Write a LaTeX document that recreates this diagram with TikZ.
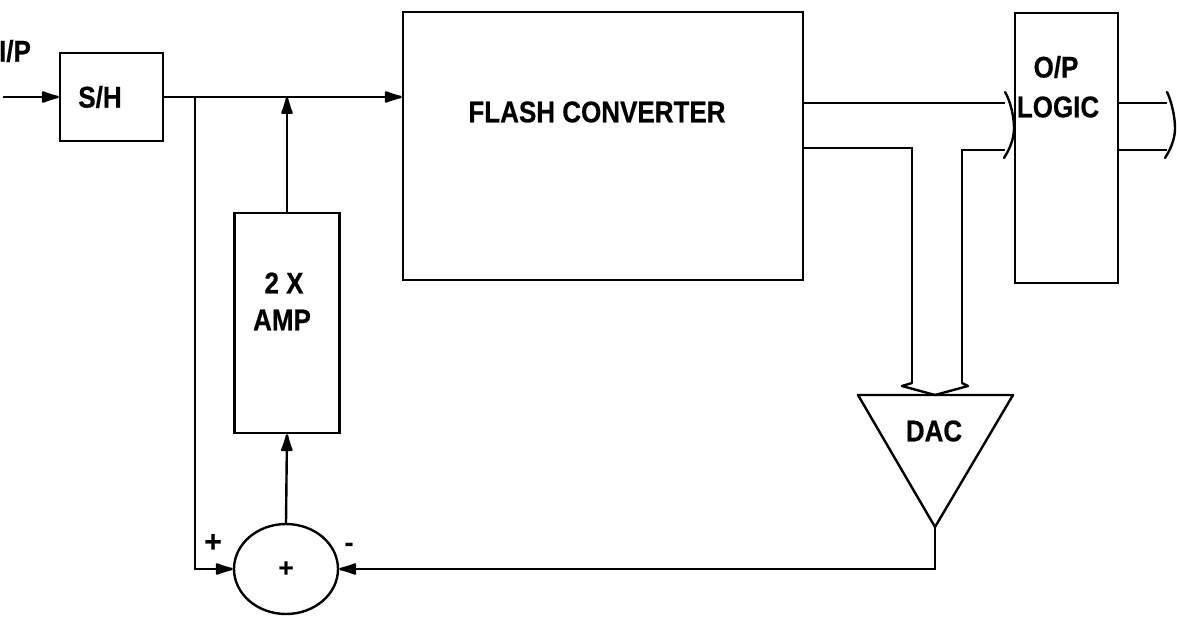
\documentclass[tikz,border=0pt]{standalone}
\usepackage{fontspec}
\usepackage{graphicx}
\setmainfont{Liberation Sans}[BoldFeatures={FakeBold=0.6}]
\usetikzlibrary{arrows.meta,shapes.geometric}
\newcommand{\tallbox}[1]{\scalebox{1}[1.15]{#1}}
\begin{document}
\begin{tikzpicture}[x=1pt,y=-1pt, line width=2.4pt,
  lbl/.style={font=\fontsize{26}{28}\selectfont\bfseries, inner sep=0pt},
  blk/.style={draw, inner sep=0pt},
  arr/.style={-{Latex[length=22pt,width=13pt,round]}},
  bus/.style={line width=2.4pt, line join=round, line cap=round}]
\useasboundingbox (0,0) rectangle (1177,616);
% blocks
\node[blk, minimum width=103pt, minimum height=88pt] (sh) at (111.5,97) {};
\node[blk, minimum width=400pt, minimum height=268pt] (flash) at (603,146) {};
\node[blk, minimum width=103pt, minimum height=270pt] (opl) at (1066.5,148) {};
\node[blk, minimum width=105pt, minimum height=220pt] (amp) at (287,323) {};
\node[draw, ellipse, minimum width=104pt, minimum height=90pt, inner sep=0pt] (sum) at (286,569) {};
% texts
\node[lbl] (iptxt) at (15,51) {\tallbox{I/P}};
\node[lbl] (shtxt) at (100,97) {\tallbox{S/H}};
\node[lbl] (flashtxt) at (597,112) {\tallbox{FLASH CONVERTER}};
\node[lbl] (optxt) at (1056,67) {\tallbox{O/P}};
\node[lbl] (logictxt) at (1058,107) {\tallbox{LOGIC}};
\node[lbl] (amptxt1) at (284,283) {\tallbox{2 X}};
\node[lbl] (amptxt2) at (282,320) {\tallbox{AMP}};
\node[lbl] (sumplus) at (286,569) {+};
\node[lbl, font=\fontsize{30}{32}\selectfont\bfseries] (plus) at (213,543) {+};
\node[lbl] (minus) at (349,547) {-};
\node[lbl] (dac) at (934,431) {\tallbox{DAC}};
% DAC triangle
\coordinate (dacl) at (858,395);
\coordinate (dacr) at (1013,395);
\coordinate (apex) at (935,527);
\draw[line join=round] (dacl) -- (dacr) -- (apex) -- cycle;
% coordinates
\coordinate (in) at (3,97);
\coordinate (br) at (195,97);
\coordinate (b1) at (1005,103);
\coordinate (b2) at (1005,150);
\coordinate (c1) at (1167,103);
\coordinate (c2) at (1167,150);
\coordinate (dl) at (912,383);
\coordinate (dr) at (962,383);
\coordinate (f2) at (0,148);
% connectors
\draw[arr] (in) -- (sh.west);
\draw[arr] (sh.east) -- (sh.east -| flash.west);
\draw[arr] (br) |- (sum.west);
\draw[arr] (amp.north) -- (amp.north |- sh.east);
\draw[arr] (sum.north) -- (amp.south);
\draw[arr] (apex) |- (sum.east);
% bus from flash to O/P logic and DAC
\draw (b1 -| flash.east) -- (b1);
\draw (f2 -| flash.east) -| (dl);
\draw (dr) |- (b2);
\draw[bus] (1005,92) .. controls (1010,100) and (1014,116) .. (1014,128) .. controls (1014,140) and (1009,150) .. (1004,158);
\draw[bus] (dl) -- (902,386) -- (935,395) -- (968,386) -- (dr);
% output bus
\draw (b1 -| opl.east) -- (c1);
\draw (b2 -| opl.east) -- (c2);
\draw[bus] (1167,92) .. controls (1171,100) and (1175,116) .. (1175,128) .. controls (1175,140) and (1170,150) .. (1165,158);
\end{tikzpicture}
\end{document}
